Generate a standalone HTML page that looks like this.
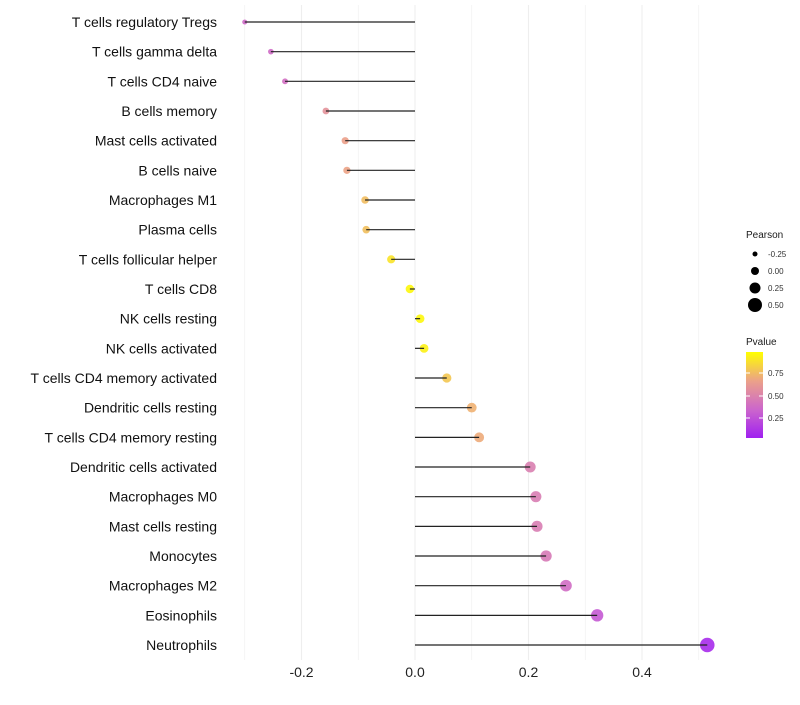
<!DOCTYPE html>
<html><head><meta charset="utf-8"><style>body{margin:0;background:#fff}svg{font-family:"Liberation Sans",sans-serif}</style></head>
<body>
<svg id="chart" width="800" height="700" xmlns="http://www.w3.org/2000/svg">
<defs><linearGradient id="pg" x1="0" y1="1" x2="0" y2="0">
<stop offset="0" stop-color="#a020f0"/><stop offset="0.33" stop-color="#cc66cc"/><stop offset="0.66" stop-color="#eba08a"/><stop offset="1" stop-color="#ffff00"/></linearGradient></defs>
<g id="grid"></g><g id="points"></g><g id="marks"></g><g id="labels"></g><g id="legend"></g>
</svg>
<script>
const categories=["T cells regulatory  Tregs","T cells gamma delta","T cells CD4 naive","B cells memory","Mast cells activated","B cells naive","Macrophages M1","Plasma cells","T cells follicular helper","T cells CD8","NK cells resting","NK cells activated","T cells CD4 memory activated","Dendritic cells resting","T cells CD4 memory resting","Dendritic cells activated","Macrophages M0","Mast cells resting","Monocytes","Macrophages M2","Eosinophils","Neutrophils"];
const pearson=[-0.30,-0.254,-0.229,-0.157,-0.123,-0.12,-0.088,-0.086,-0.042,-0.009,0.009,0.016,0.056,0.10,0.113,0.203,0.213,0.215,0.231,0.266,0.321,0.515];
const pvalues=[0.35,0.36,0.38,0.58,0.66,0.67,0.76,0.77,0.9,0.97,0.97,0.95,0.8,0.72,0.7,0.47,0.46,0.46,0.44,0.37,0.27,0.05];
const xTicks=[-0.2,0.0,0.2,0.4];
const xTickLabels=["-0.2","0.0","0.2","0.4"];
const NS="http://www.w3.org/2000/svg";
const xs=v=>415+v*567.5;
const ys=i=>22+i*29.667;
const rs=v=>4.3+5.8*v;
const stops=[[0,[160,32,240]],[0.33,[204,102,204]],[0.66,[235,160,138]],[1,[255,255,0]]];
function col(p){for(let k=1;k<stops.length;k++){if(p<=stops[k][0]){const a=stops[k-1],b=stops[k],t=(p-a[0])/(b[0]-a[0]);return 'rgb('+a[1].map((c,j)=>Math.round(c+(b[1][j]-c)*t)).join(',')+')';}}return 'rgb(255,255,0)';}
function mk(tag,attrs,parent){const e=document.createElementNS(NS,tag);for(const k in attrs)e.setAttribute(k,attrs[k]);parent.appendChild(e);return e;}
const grid=document.getElementById('grid'),points=document.getElementById('points'),marks=document.getElementById('marks'),labels=document.getElementById('labels'),legend=document.getElementById('legend');
for(let v=-0.3;v<=0.51;v+=0.1){const g=mk('line',{x1:xs(v),x2:xs(v),y1:5,y2:660,stroke:'#eeeeee','stroke-width':Math.abs(Math.round(v*10))%2===0?1.1:0.6},grid);

}
xTicks.forEach((v,i)=>{const t=mk('text',{x:xs(v),y:677,'text-anchor':'middle','font-size':14,fill:'#222'},labels);t.textContent=xTickLabels[i];

});
categories.forEach((c,i)=>{const y=ys(i);
const t=mk('text',{x:217,y:y+5,'text-anchor':'end','font-size':14,fill:'#111'},labels);t.textContent=c;


const d=mk('circle',{cx:xs(pearson[i]),cy:y,r:Math.max(1.8,rs(pearson[i])),fill:col(pvalues[i]),opacity:0.9},points);


const l=mk('line',{x1:xs(0),x2:xs(pearson[i]),y1:y,y2:y,stroke:'#222','stroke-width':1.2},marks);

});
const lt=mk('text',{x:746,y:238,'font-size':10,fill:'#1a1a1a'},legend);lt.textContent='Pearson';


[-0.25,0,0.25,0.5].forEach((v,i)=>{const y=254+i*17;const c=mk('circle',{cx:755,cy:y,r:4+6*v,fill:'#000'},legend);


const t=mk('text',{x:768,y:y+3,'font-size':8,fill:'#333'},legend);t.textContent=v.toFixed(2);

});
const pt=mk('text',{x:746,y:345,'font-size':10,fill:'#1a1a1a'},legend);pt.textContent='Pvalue';


const bar=mk('rect',{x:746,y:352,width:17,height:86,fill:'url(#pg)'},legend);


[[0.75,373],[0.5,396],[0.25,418]].forEach(([v,y])=>{const t=mk('text',{x:768,y:y+3,'font-size':8,fill:'#333'},legend);t.textContent=v.toFixed(2);


mk('line',{x1:746,x2:750,y1:y,y2:y,stroke:'#fff'},legend);mk('line',{x1:759,x2:763,y1:y,y2:y,stroke:'#fff'},legend);});
</script>
</body></html>
